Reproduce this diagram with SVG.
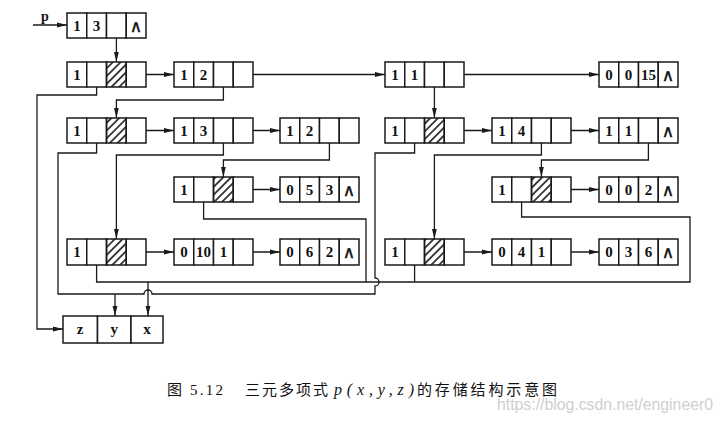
<svg xmlns="http://www.w3.org/2000/svg" width="723" height="423" viewBox="0 0 723 423">
<style>
.c{fill:#fff;stroke:#1a1a1a;stroke-width:1.5}
.h{fill:url(#hatch);stroke:#1a1a1a;stroke-width:1.5}
.t{font-family:"Liberation Serif",serif;font-weight:bold;font-size:15px;fill:#111;text-anchor:middle}
.n{font-family:"DejaVu Sans",sans-serif;font-size:17px;fill:#111;stroke:#111;stroke-width:0.4;text-anchor:middle}
.w{fill:none;stroke:#1a1a1a;stroke-width:1.3}
.a{marker-end:url(#ah)}
.cap{font-family:"Noto Sans CJK SC",sans-serif;font-size:15px;fill:#111}
</style>
<defs>
<pattern id="hatch" patternUnits="userSpaceOnUse" width="5.5" height="5.5" patternTransform="rotate(45)">
<line x1="2.75" y1="0" x2="2.75" y2="5.5" stroke="#1a1a1a" stroke-width="1.6"/>
</pattern>
<marker id="ah" viewBox="0 0 10 6" refX="10" refY="3" markerWidth="10" markerHeight="6" markerUnits="userSpaceOnUse" orient="auto">
<path d="M0,0.6 L10,3 L0,5.4 Z" fill="#1a1a1a"/>
</marker>
</defs>
<rect width="723" height="423" fill="#fff"/>

<g id="connectors">
<text x="45" y="21" style="font-family:'Liberation Serif',serif;font-size:14px;font-weight:bold;fill:#111" text-anchor="middle">p</text>
<path class="w a" d="M33,25 H67"/>
<path class="w a" d="M116.4,26 V62"/>
<path class="w a" d="M136,74.5 H174"/>
<path class="w a" d="M243,74.5 H385"/>
<path class="w a" d="M454,74.5 H599"/>
<path class="w a" d="M96.6,75 V95 H37 V329 H63"/>
<path class="w a" d="M223.4,75 V100 H116.4 V118"/>
<path class="w a" d="M434.4,75 V118"/>
<path class="w a" d="M136,130.5 H174"/>
<path class="w a" d="M243,130.5 H280"/>
<path class="w" d="M96.6,131 V153 H58 V294 H144 A4,4 0 0 1 152,294 H375 V286 A4,4 0 0 0 375,278 V153 H414.6 V131"/>
<path class="w a" d="M115,294 V316"/>
<path class="w a" d="M223.4,131 V155 H116.4 V239"/>
<path class="w a" d="M329.4,131 V160 H223.4 V177"/>
<path class="w a" d="M243,189.5 H280"/>
<path class="w" d="M203.6,190 V219 H366 V282"/>
<path class="w a" d="M136,252 H174"/>
<path class="w a" d="M243,252 H280"/>
<path class="w" d="M96.6,252 V282 H690 V217 H521.6 V190"/>
<path class="w a" d="M148,282 V316"/>
<path class="w" d="M414.6,252 V282"/>
<path class="w a" d="M454,130.5 H492"/>
<path class="w a" d="M561,130.5 H599"/>
<path class="w a" d="M541.4,131 V155 H434.4 V239"/>
<path class="w a" d="M648.4,131 V160 H541.4 V177"/>
<path class="w a" d="M561,189.5 H599"/>
<path class="w a" d="M454,252 H492"/>
<path class="w a" d="M561,252 H599"/>
</g>

<g id="n0">
<rect class="c" x="67" y="13" width="19.75" height="25"/><rect class="c" x="86.75" y="13" width="19.75" height="25"/><rect class="c" x="106.5" y="13" width="19.75" height="25"/><rect class="c" x="126.25" y="13" width="19.75" height="25"/>
<text class="t" x="76.9" y="30.5">1</text><text class="t" x="96.6" y="30.5">3</text><text class="n" x="136.1" y="31.5">∧</text>
</g>

<g id="n1a">
<rect class="c" x="67" y="62" width="19.75" height="25"/><rect class="c" x="86.75" y="62" width="19.75" height="25"/><rect class="h" x="106.5" y="62" width="19.75" height="25"/><rect class="c" x="126.25" y="62" width="19.75" height="25"/>
<text class="t" x="76.9" y="79.5">1</text>
</g>
<g id="n1b">
<rect class="c" x="174" y="62" width="19.75" height="25"/><rect class="c" x="193.75" y="62" width="19.75" height="25"/><rect class="c" x="213.5" y="62" width="19.75" height="25"/><rect class="c" x="233.25" y="62" width="19.75" height="25"/>
<text class="t" x="183.9" y="79.5">1</text><text class="t" x="203.6" y="79.5">2</text>
</g>
<g id="n1c">
<rect class="c" x="385" y="62" width="19.75" height="25"/><rect class="c" x="404.75" y="62" width="19.75" height="25"/><rect class="c" x="424.5" y="62" width="19.75" height="25"/><rect class="c" x="444.25" y="62" width="19.75" height="25"/>
<text class="t" x="394.9" y="79.5">1</text><text class="t" x="414.6" y="79.5">1</text>
</g>
<g id="n1d">
<rect class="c" x="599" y="62" width="19.75" height="25"/><rect class="c" x="618.75" y="62" width="19.75" height="25"/><rect class="c" x="638.5" y="62" width="19.75" height="25"/><rect class="c" x="658.25" y="62" width="19.75" height="25"/>
<text class="t" x="608.9" y="79.5">0</text><text class="t" x="628.6" y="79.5">0</text><text class="t" x="648.4" y="79.5">15</text><text class="n" x="668.1" y="80.5">∧</text>
</g>

<g id="n2a">
<rect class="c" x="67" y="118" width="19.75" height="25"/><rect class="c" x="86.75" y="118" width="19.75" height="25"/><rect class="h" x="106.5" y="118" width="19.75" height="25"/><rect class="c" x="126.25" y="118" width="19.75" height="25"/>
<text class="t" x="76.9" y="135.5">1</text>
</g>
<g id="n2b">
<rect class="c" x="174" y="118" width="19.75" height="25"/><rect class="c" x="193.75" y="118" width="19.75" height="25"/><rect class="c" x="213.5" y="118" width="19.75" height="25"/><rect class="c" x="233.25" y="118" width="19.75" height="25"/>
<text class="t" x="183.9" y="135.5">1</text><text class="t" x="203.6" y="135.5">3</text>
</g>
<g id="n2c">
<rect class="c" x="280" y="118" width="19.75" height="25"/><rect class="c" x="299.75" y="118" width="19.75" height="25"/><rect class="c" x="319.5" y="118" width="19.75" height="25"/><rect class="c" x="339.25" y="118" width="19.75" height="25"/>
<text class="t" x="289.9" y="135.5">1</text><text class="t" x="309.6" y="135.5">2</text>
</g>
<g id="n2d">
<rect class="c" x="385" y="118" width="19.75" height="25"/><rect class="c" x="404.75" y="118" width="19.75" height="25"/><rect class="h" x="424.5" y="118" width="19.75" height="25"/><rect class="c" x="444.25" y="118" width="19.75" height="25"/>
<text class="t" x="394.9" y="135.5">1</text>
</g>
<g id="n2e">
<rect class="c" x="492" y="118" width="19.75" height="25"/><rect class="c" x="511.75" y="118" width="19.75" height="25"/><rect class="c" x="531.5" y="118" width="19.75" height="25"/><rect class="c" x="551.25" y="118" width="19.75" height="25"/>
<text class="t" x="501.9" y="135.5">1</text><text class="t" x="521.6" y="135.5">4</text>
</g>
<g id="n2f">
<rect class="c" x="599" y="118" width="19.75" height="25"/><rect class="c" x="618.75" y="118" width="19.75" height="25"/><rect class="c" x="638.5" y="118" width="19.75" height="25"/><rect class="c" x="658.25" y="118" width="19.75" height="25"/>
<text class="t" x="608.9" y="135.5">1</text><text class="t" x="628.6" y="135.5">1</text><text class="n" x="668.1" y="136.5">∧</text>
</g>

<g id="n3a">
<rect class="c" x="174" y="177" width="19.75" height="25"/><rect class="c" x="193.75" y="177" width="19.75" height="25"/><rect class="h" x="213.5" y="177" width="19.75" height="25"/><rect class="c" x="233.25" y="177" width="19.75" height="25"/>
<text class="t" x="183.9" y="194.5">1</text>
</g>
<g id="n3b">
<rect class="c" x="280" y="177" width="19.75" height="25"/><rect class="c" x="299.75" y="177" width="19.75" height="25"/><rect class="c" x="319.5" y="177" width="19.75" height="25"/><rect class="c" x="339.25" y="177" width="19.75" height="25"/>
<text class="t" x="289.9" y="194.5">0</text><text class="t" x="309.6" y="194.5">5</text><text class="t" x="329.4" y="194.5">3</text><text class="n" x="349.1" y="195.5">∧</text>
</g>
<g id="n3c">
<rect class="c" x="492" y="177" width="19.75" height="25"/><rect class="c" x="511.75" y="177" width="19.75" height="25"/><rect class="h" x="531.5" y="177" width="19.75" height="25"/><rect class="c" x="551.25" y="177" width="19.75" height="25"/>
<text class="t" x="501.9" y="194.5">1</text>
</g>
<g id="n3d">
<rect class="c" x="599" y="177" width="19.75" height="25"/><rect class="c" x="618.75" y="177" width="19.75" height="25"/><rect class="c" x="638.5" y="177" width="19.75" height="25"/><rect class="c" x="658.25" y="177" width="19.75" height="25"/>
<text class="t" x="608.9" y="194.5">0</text><text class="t" x="628.6" y="194.5">0</text><text class="t" x="648.4" y="194.5">2</text><text class="n" x="668.1" y="195.5">∧</text>
</g>

<g id="n4a">
<rect class="c" x="67" y="239" width="19.75" height="26"/><rect class="c" x="86.75" y="239" width="19.75" height="26"/><rect class="h" x="106.5" y="239" width="19.75" height="26"/><rect class="c" x="126.25" y="239" width="19.75" height="26"/>
<text class="t" x="76.9" y="257">1</text>
</g>
<g id="n4b">
<rect class="c" x="174" y="239" width="19.75" height="26"/><rect class="c" x="193.75" y="239" width="19.75" height="26"/><rect class="c" x="213.5" y="239" width="19.75" height="26"/><rect class="c" x="233.25" y="239" width="19.75" height="26"/>
<text class="t" x="183.9" y="257">0</text><text class="t" x="203.6" y="257">10</text><text class="t" x="223.4" y="257">1</text>
</g>
<g id="n4c">
<rect class="c" x="280" y="239" width="19.75" height="26"/><rect class="c" x="299.75" y="239" width="19.75" height="26"/><rect class="c" x="319.5" y="239" width="19.75" height="26"/><rect class="c" x="339.25" y="239" width="19.75" height="26"/>
<text class="t" x="289.9" y="257">0</text><text class="t" x="309.6" y="257">6</text><text class="t" x="329.4" y="257">2</text><text class="n" x="349.1" y="258">∧</text>
</g>
<g id="n4d">
<rect class="c" x="385" y="239" width="19.75" height="26"/><rect class="c" x="404.75" y="239" width="19.75" height="26"/><rect class="h" x="424.5" y="239" width="19.75" height="26"/><rect class="c" x="444.25" y="239" width="19.75" height="26"/>
<text class="t" x="394.9" y="257">1</text>
</g>
<g id="n4e">
<rect class="c" x="492" y="239" width="19.75" height="26"/><rect class="c" x="511.75" y="239" width="19.75" height="26"/><rect class="c" x="531.5" y="239" width="19.75" height="26"/><rect class="c" x="551.25" y="239" width="19.75" height="26"/>
<text class="t" x="501.9" y="257">0</text><text class="t" x="521.6" y="257">4</text><text class="t" x="541.4" y="257">1</text>
</g>
<g id="n4f">
<rect class="c" x="599" y="239" width="19.75" height="26"/><rect class="c" x="618.75" y="239" width="19.75" height="26"/><rect class="c" x="638.5" y="239" width="19.75" height="26"/><rect class="c" x="658.25" y="239" width="19.75" height="26"/>
<text class="t" x="608.9" y="257">0</text><text class="t" x="628.6" y="257">3</text><text class="t" x="648.4" y="257">6</text><text class="n" x="668.1" y="258">∧</text>
</g>

<g id="zyx">
<rect class="c" x="63" y="316" width="34.5" height="27"/><rect class="c" x="97.5" y="316" width="33.5" height="27"/><rect class="c" x="131" y="316" width="32" height="27"/>
<text class="t" x="80.2" y="334">z</text><text class="t" x="114.2" y="334">y</text><text class="t" x="147" y="334">x</text>
</g>

<g id="caption">
<text class="cap" x="167" y="395">图</text>
<text x="190" y="395" textLength="33" lengthAdjust="spacing" style="font-family:'Liberation Serif',serif;font-size:15px;fill:#111">5.12</text>
<text class="cap" x="245" y="395" textLength="83" lengthAdjust="spacing">三元多项式</text>
<text x="334" y="395" textLength="80" lengthAdjust="spacing" style="font-family:'Liberation Serif',serif;font-style:italic;font-size:16px;fill:#111">p(x,y,z)</text>
<text class="cap" x="417" y="395" textLength="140" lengthAdjust="spacing">的存储结构示意图</text>
<text x="497" y="410" textLength="216" lengthAdjust="spacingAndGlyphs" style="font-family:'Liberation Sans',sans-serif;font-size:16px;fill:#cfcfcf">https://blog.csdn.net/engineer0</text>
</g>
</svg>
